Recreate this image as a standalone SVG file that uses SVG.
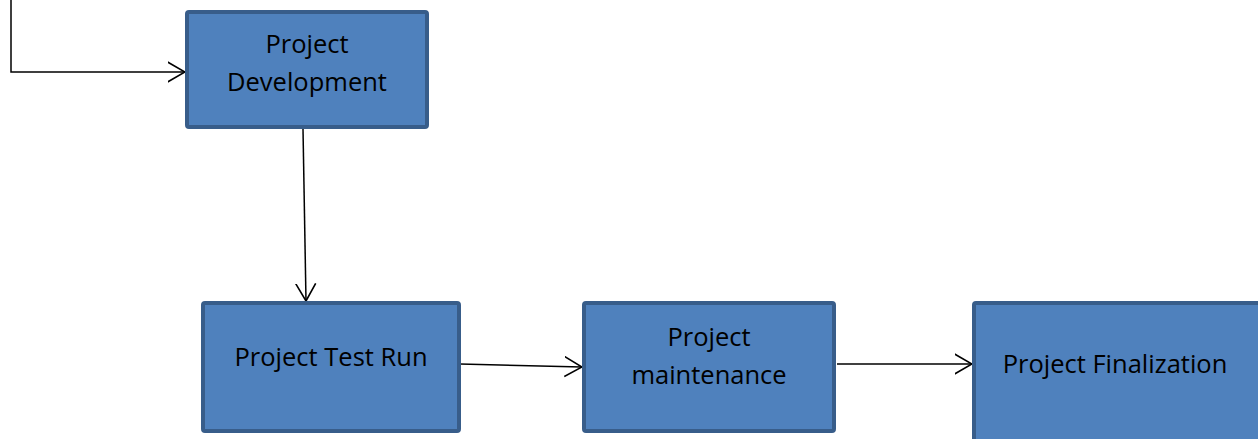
<svg xmlns="http://www.w3.org/2000/svg" width="1258" height="439" viewBox="0 0 1258 439">
  <style>
    .box { fill: #4f81bd; stroke: #385d8a; stroke-width: 4; }
    .label { font-family: "Open Sans", "Liberation Sans", sans-serif; font-size: 25.5px; fill: #000; text-anchor: middle; }
    .conn { fill: none; stroke: #000; stroke-width: 1.5; marker-end: url(#open-arrow); }
  </style>
  <defs>
    <marker id="open-arrow" markerUnits="userSpaceOnUse" viewBox="0 0 18 22" refX="17.5" refY="11" markerWidth="18" markerHeight="22" orient="auto">
      <path d="M0,1 L17.5,11 L0,21" fill="none" stroke="#000" stroke-width="1.6"/>
    </marker>
  </defs>

  <rect width="1258" height="439" fill="#fff"/>

  <g id="connectors">
    <path class="conn" d="M11,0 L11,72 L185,72"/>
    <path class="conn" d="M303,129 L306,301"/>
    <path class="conn" d="M460,364 L582,367"/>
    <path class="conn" d="M837,364 L972,364"/>
  </g>

  <g id="project-development">
    <rect class="box" x="187" y="12" width="240" height="115" rx="2"/>
    <text class="label" x="307" y="53">Project</text>
    <text class="label" x="307" y="91">Development</text>
  </g>

  <g id="project-test-run">
    <rect class="box" x="203" y="303" width="256" height="128" rx="2"/>
    <text class="label" x="331" y="366">Project Test Run</text>
  </g>

  <g id="project-maintenance">
    <rect class="box" x="584" y="303" width="250" height="128" rx="2"/>
    <text class="label" x="709" y="346">Project</text>
    <text class="label" x="709" y="384">maintenance</text>
  </g>

  <g id="project-finalization">
    <rect class="box" x="974" y="303" width="286" height="150" rx="2"/>
    <text class="label" x="1115" y="373">Project Finalization</text>
  </g>
</svg>
